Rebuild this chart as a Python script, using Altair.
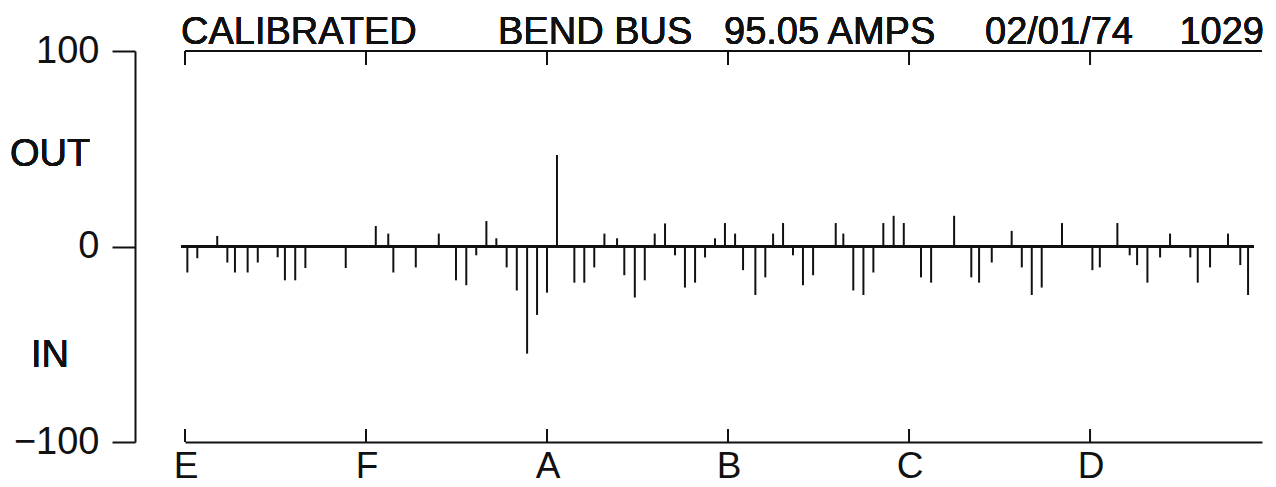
import altair as alt
import pandas as pd

# position along the ring, in hundredths of a sector (E=0, F=100, A=200, ...)
position = [1.3, 6.8, 17.8, 23.4, 27.6, 34.6, 40.2, 51.2, 55.2, 60.9, 66.5, 88.8,
            105.4, 112.3, 115.1, 127.5, 140.2, 149.7, 155.4, 160.9, 166.5, 172.0,
            177.7, 183.3, 189.0, 194.5, 200.0, 205.5, 215.1, 220.6, 226.1, 231.7,
            238.7, 242.7, 248.5, 254.0, 259.5, 265.2, 270.7, 276.2, 281.8, 287.3,
            292.8, 298.3, 303.9, 308.3, 315.1, 320.6, 324.9, 330.4, 335.9, 341.4,
            347.0, 359.5, 363.7, 369.2, 374.8, 380.3, 385.8, 391.5, 397.1, 406.6,
            412.2, 424.9, 434.4, 438.7, 445.7, 456.7, 462.3, 467.8, 473.3, 484.5,
            501.3, 505.4, 515.1, 521.9, 526.0, 531.7, 538.7, 544.2, 555.4, 559.5,
            566.3, 576.2, 583.0, 587.3]
# reading (OUT positive, IN negative)
deviation = [-13.3, -6.0, 5.4, -8.2, -13.3, -13.3, -8.2, -5.5, -17.3, -17.3, -11.0, -11.0,
             10.5, 6.6, -13.3, -10.7, 6.6, -17.3, -19.8, -4.5, 13.0, 4.2,
             -10.7, -22.5, -54.8, -35.0, -23.6, 46.8, -18.5, -18.5, -10.7, 6.6,
             4.2, -14.7, -26.1, -17.3, 6.6, 11.8, -4.5, -21.0, -18.5, -5.6,
             4.2, 12.0, 6.6, -12.1, -24.8, -15.8, 6.6, 12.0, -4.5, -19.8,
             -14.7, 12.0, 6.6, -22.5, -24.8, -13.3, 12.0, 15.7, 12.0, -15.8,
             -18.5, 15.7, -15.8, -18.5, -8.2, 8.0, -10.7, -24.8, -21.0, 12.0,
             -12.1, -10.7, 12.0, -4.5, -9.5, -18.5, -5.6, 6.6, -5.6, -18.5,
             -10.7, 6.6, -9.5, -24.8]

section_names = ["E", "F", "A", "B", "C", "D"]
section_pos = [0, 100, 200, 300, 400, 500]
y_tick_values = [-100, 0, 100]

title_left = "CALIBRATED"
title_mid1 = "BEND BUS"
title_mid2 = "95.05 AMPS"
title_date = "02/01/74"
title_time = "1029"
label_out = "OUT"
label_in = "IN"

bars_df = pd.DataFrame({"position": position, "deviation": deviation})
sections_df = pd.DataFrame({"section": section_names, "position": section_pos})

W, H = 1077, 391
INK = "#111111"
FONT = "Liberation Sans"
FS = 38

x_scale = alt.Scale(domain=[0, 595], nice=False, zero=False)
y_scale = alt.Scale(domain=[-100, 100], nice=False, zero=False)

x_axis = alt.Axis(domain=True, domainColor=INK, domainWidth=2, ticks=False,
                  labels=False, grid=False, title=None)
y_axis = alt.Axis(values=y_tick_values, domain=True, domainColor=INK, domainWidth=2,
                  ticks=True, tickColor=INK, tickWidth=2, tickSize=23, offset=50,
                  labelPadding=13, labelFont=FONT, labelFontSize=FS, labelColor=INK,
                  labelFlush=False, labelOverlap=False, grid=False, title=None)

X = alt.X("position:Q", scale=x_scale, axis=x_axis)

bars = alt.Chart(bars_df).mark_rule(color=INK, strokeWidth=2).encode(
    x=X,
    y=alt.Y("deviation:Q", scale=y_scale, axis=y_axis),
    y2=alt.datum(0),
)

zero_line = alt.Chart(bars_df).mark_rule(color=INK, strokeWidth=2).encode(
    x=alt.value(-4), x2=alt.value(1069), y=alt.datum(0, scale=y_scale)
)

top_line = alt.Chart(sections_df).mark_rule(color=INK, strokeWidth=2).encode(
    x=alt.value(0), x2=alt.value(W), y=alt.value(0)
)

top_ticks = alt.Chart(sections_df).mark_rule(color=INK, strokeWidth=2).encode(
    x=X, y=alt.value(0), y2=alt.value(14)
)

bottom_ticks = alt.Chart(sections_df).mark_rule(color=INK, strokeWidth=2).encode(
    x=X, y=alt.value(H - 13), y2=alt.value(H)
)

section_labels = alt.Chart(sections_df).mark_text(
    font=FONT, fontSize=37, color=INK, align="center", baseline="alphabetic", dx=1
).encode(x=X, y=alt.value(H + 36), text="section:N")


def label(txt, x, y, align="left"):
    return alt.Chart(sections_df).mark_text(
        font=FONT, fontSize=FS, color=INK, align=align, baseline="alphabetic", text=txt
    ).encode(x=alt.value(x), y=alt.value(y))


texts = [
    label(title_left, -4, -7),
    label(title_mid1, 313, -7),
    label(title_mid2, 539, -7),
    label(title_date, 800, -7),
    label(title_time, 1079, -7, "right"),
    label(label_out, -135, 115, "center"),
    label(label_in, -135, 316, "center"),
]

chart = alt.layer(
    top_line, top_ticks, bottom_ticks, zero_line, bars, section_labels, *texts
).properties(
    width=W, height=H,
    autosize=alt.AutoSizeParams(type="none"),
    padding={"left": 177, "top": 43, "right": 6, "bottom": 45},
    background="white",
).configure_view(stroke=None)

chart.save("out.html", embed_options={"renderer": "svg", "actions": False})
